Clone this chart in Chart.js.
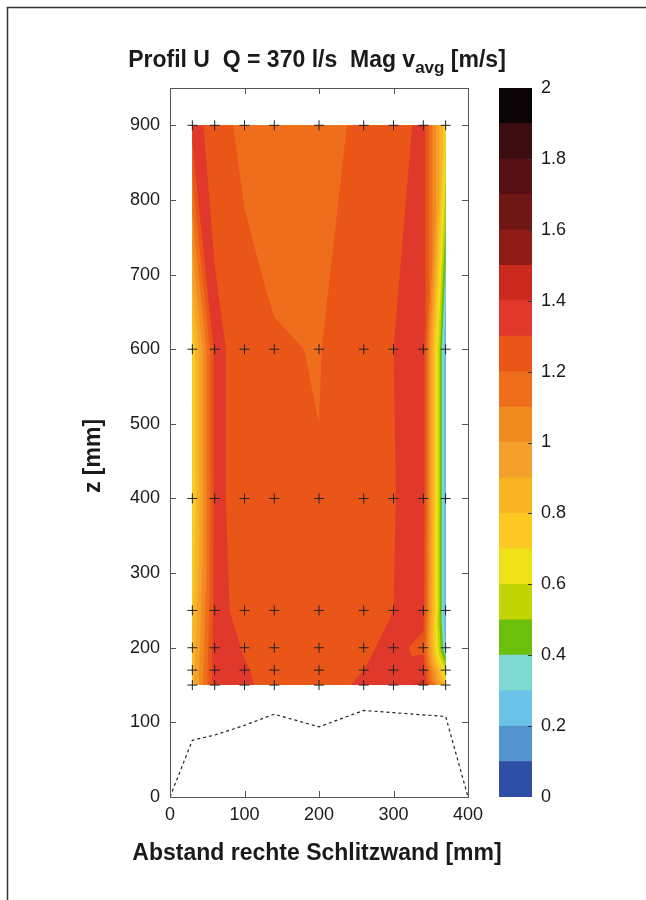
<!DOCTYPE html>
<html>
<head>
<meta charset="utf-8">
<script src="https://cdn.jsdelivr.net/npm/chart.js@4.4.1/dist/chart.umd.min.js"></script>
<style>
  body { margin: 0; background: #fff; }
  #wrap { position: relative; width: 646px; height: 900px; }
  canvas { position: absolute; top: 0; }
</style>
</head>
<body>
<div id="wrap">
  <canvas id="main" width="646" height="900" style="left:0"></canvas>
  <canvas id="bar" width="186" height="900" style="left:460px"></canvas>
</div>
<script>
// measuring grid (crosses)
const xPos = [30, 60, 100, 140, 200, 260, 300, 340, 370];
const zPos = [900, 600, 400, 250, 200, 170, 150];

// Mag v_avg [m/s], one row per measuring height
const v900 = [1.35, 1.25, 1.17, 1.14, 1.15, 1.23, 1.20, 1.36, 0.72];
const v600 = [0.72, 1.33, 1.25, 1.21, 1.195, 1.28, 1.30, 1.36, 0.20];
const v400 = [0.70, 1.33, 1.25, 1.24, 1.205, 1.25, 1.295, 1.36, 0.20];
const v250 = [0.78, 1.34, 1.26, 1.25, 1.24, 1.25, 1.30, 1.34, 0.20];
const v200 = [0.82, 1.36, 1.29, 1.25, 1.24, 1.28, 1.33, 1.27, 0.28];
const v170 = [0.85, 1.36, 1.31, 1.26, 1.25, 1.30, 1.35, 1.37, 0.60];
const v150 = [0.85, 1.36, 1.32, 1.26, 1.25, 1.32, 1.36, 1.42, 0.80];

// bottom profile (dashed)
const bedX = [0, 30, 60, 100, 140, 200, 260, 300, 340, 370, 400];
const bedZ = [0, 76, 83, 96, 111, 94, 116, 113, 110, 108, 0];

// colour levels
const levelEdges = [0, 0.1, 0.2, 0.3, 0.4, 0.5, 0.6, 0.7, 0.8, 0.9, 1.0,
                    1.1, 1.2, 1.3, 1.4, 1.5, 1.6, 1.7, 1.8, 1.9, 2.0];
const levelColors = ['#2f4ea6', '#5595cd', '#6cc3e8', '#7ed9d1', '#6cbf0a',
                     '#c2d503', '#efe117', '#fbc922', '#f9b423', '#f5a02b',
                     '#f28b1f', '#ee6e1c', '#e95618', '#e0392b', '#cd2a1f',
                     '#8e1d17', '#6e1714', '#571013', '#3b0c10', '#0b0406'];

// tick labels
const xTicks = [0, 100, 200, 300, 400];
const zTicks = [0, 100, 200, 300, 400, 500, 600, 700, 800, 900];
const cbTicks = [0, 0.2, 0.4, 0.6, 0.8, 1, 1.2, 1.4, 1.6, 1.8, 2];

const velRows = [v900, v600, v400, v250, v200, v170, v150];
const FONT = 'Arial, "Liberation Sans", Helvetica, sans-serif';
const INK = '#1a1a1a';

// cut a polygon (x, y, v) at value lo, keep the part with v >= lo
function clipAbove(poly, lo) {
  const out = [];
  for (let i = 0; i < poly.length; i++) {
    const a = poly[i], b = poly[(i + 1) % poly.length];
    const ain = a.v >= lo, bin = b.v >= lo;
    if (ain) out.push(a);
    if (ain !== bin) {
      const t = (lo - a.v) / (b.v - a.v);
      out.push({ x: a.x + t * (b.x - a.x), y: a.y + t * (b.y - a.y), v: lo });
    }
  }
  return out;
}

const contourPlugin = {
  id: 'contour',
  beforeDatasetsDraw(chart) {
    const { ctx, scales: { x, y } } = chart;
    const tris = [];
    for (let j = 0; j < zPos.length - 1; j++) {
      for (let i = 0; i < xPos.length - 1; i++) {
        const TL = { x: xPos[i], y: zPos[j], v: velRows[j][i] };
        const TR = { x: xPos[i + 1], y: zPos[j], v: velRows[j][i + 1] };
        const BL = { x: xPos[i], y: zPos[j + 1], v: velRows[j + 1][i] };
        const BR = { x: xPos[i + 1], y: zPos[j + 1], v: velRows[j + 1][i + 1] };
        if (xPos[i] < 200) {
          tris.push([TL, TR, BR], [TL, BR, BL]);
        } else {
          tris.push([TL, TR, BL], [TR, BR, BL]);
        }
      }
    }
    ctx.save();
    // paint "v >= level" regions from low to high, each as one path
    for (let k = 0; k < levelColors.length; k++) {
      const lo = levelEdges[k];
      ctx.beginPath();
      let any = false;
      for (const tri of tris) {
        const p = clipAbove(tri, lo);
        if (p.length < 3) continue;
        any = true;
        p.forEach((q, n) => {
          const px = x.getPixelForValue(q.x), py = y.getPixelForValue(q.y);
          if (n === 0) ctx.moveTo(px, py); else ctx.lineTo(px, py);
        });
        ctx.closePath();
      }
      if (!any) break;
      ctx.fillStyle = levelColors[k];
      ctx.fill('nonzero');
    }
    ctx.restore();
  },
  afterDraw(chart) {
    const { ctx, chartArea: a, scales: { x, y } } = chart;
    ctx.save();
    // axes box with inward ticks
    ctx.strokeStyle = '#555';
    ctx.lineWidth = 1;
    ctx.strokeRect(a.left + 0.5, a.top + 0.5, a.right - a.left, a.bottom - a.top);
    ctx.beginPath();
    x.ticks.forEach(t => {
      const px = Math.round(x.getPixelForValue(t.value)) + 0.5;
      ctx.moveTo(px, a.bottom); ctx.lineTo(px, a.bottom - 6);
      ctx.moveTo(px, a.top); ctx.lineTo(px, a.top + 6);
    });
    y.ticks.forEach(t => {
      const py = Math.round(y.getPixelForValue(t.value)) + 0.5;
      ctx.moveTo(a.left, py); ctx.lineTo(a.left + 6, py);
      ctx.moveTo(a.right, py); ctx.lineTo(a.right - 6, py);
    });
    ctx.stroke();

    // page frame
    ctx.strokeStyle = '#333';
    ctx.lineWidth = 1.5;
    ctx.beginPath();
    ctx.moveTo(7.5, 900); ctx.lineTo(7.5, 7.5); ctx.lineTo(646, 7.5);
    ctx.stroke();

    ctx.fillStyle = INK;
    ctx.font = 'bold 23px ' + FONT;
    // x axis label
    ctx.textAlign = 'center';
    ctx.textBaseline = 'alphabetic';
    ctx.fillText('Abstand rechte Schlitzwand [mm]', 317, 860);
    // y axis label
    ctx.save();
    ctx.translate(100, 456);
    ctx.rotate(-Math.PI / 2);
    ctx.fillText('z [mm]', 0, 0);
    ctx.restore();

    // title with subscript
    const parts = [
      { t: 'Profil U  Q = 370 l/s  Mag v', size: 23, dy: 0 },
      { t: 'avg', size: 17, dy: 6 },
      { t: ' [m/s]', size: 23, dy: 0 }
    ];
    let w = 0;
    parts.forEach(p => { ctx.font = 'bold ' + p.size + 'px ' + FONT; p.w = ctx.measureText(p.t).width; w += p.w; });
    let cx = 317 - w / 2;
    ctx.textAlign = 'left';
    parts.forEach(p => {
      ctx.font = 'bold ' + p.size + 'px ' + FONT;
      ctx.fillText(p.t, cx, 67 + p.dy);
      cx += p.w;
    });
    ctx.restore();
  }
};

const crossPoints = [];
zPos.forEach(z => xPos.forEach(xv => crossPoints.push({ x: xv, y: z })));

new Chart(document.getElementById('main'), {
  type: 'scatter',
  data: {
    datasets: [
      {
        data: crossPoints,
        pointStyle: 'cross',
        pointRadius: 5,
        borderColor: '#222',
        borderWidth: 1,
        showLine: false
      },
      {
        data: bedX.map((xv, i) => ({ x: xv, y: bedZ[i] })),
        showLine: true,
        borderColor: '#222',
        borderWidth: 1.2,
        borderDash: [3, 3],
        pointRadius: 0,
        fill: false
      }
    ]
  },
  options: {
    responsive: false,
    animation: false,
    layout: { padding: { left: 79, right: 178, top: 88, bottom: 35 } },
    plugins: { legend: { display: false }, tooltip: { enabled: false } },
    scales: {
      x: {
        type: 'linear',
        min: 0,
        max: 400,
        afterBuildTicks: s => { s.ticks = xTicks.map(v => ({ value: v })); },
        afterFit: s => { s.height = 68; },
        grid: { display: false, drawTicks: false },
        border: { display: false },
        ticks: { padding: 7, maxRotation: 0, color: INK, font: { family: FONT, size: 18 }, callback: v => String(v) }
      },
      y: {
        type: 'linear',
        min: 0,
        max: 950,
        afterBuildTicks: s => { s.ticks = zTicks.map(v => ({ value: v })); },
        afterFit: s => { s.width = 91; },
        grid: { display: false, drawTicks: false },
        border: { display: false },
        ticks: { padding: 10, color: INK, font: { family: FONT, size: 18 }, callback: v => String(v) }
      }
    }
  },
  plugins: [contourPlugin]
});

// colour bar
const cbTickPlugin = {
  id: 'cbticks',
  afterDraw(chart) {
    const { ctx, chartArea: a, scales: { y } } = chart;
    ctx.save();
    ctx.strokeStyle = '#333';
    ctx.lineWidth = 1;
    ctx.beginPath();
    y.ticks.forEach(t => {
      if (t.value === 0 || t.value === 2) return;
      const py = Math.round(y.getPixelForValue(t.value)) + 0.5;
      ctx.moveTo(a.right, py); ctx.lineTo(a.right - 4, py);
    });
    ctx.stroke();
    ctx.restore();
  }
};

new Chart(document.getElementById('bar'), {
  type: 'bar',
  data: {
    labels: ['v'],
    datasets: levelColors.map((c, i) => ({
      data: [[levelEdges[i], levelEdges[i + 1]]],
      backgroundColor: c,
      borderWidth: 0,
      barPercentage: 1,
      categoryPercentage: 1,
      grouped: false
    }))
  },
  options: {
    responsive: false,
    animation: false,
    layout: { padding: { left: 39, right: 0, top: 88, bottom: 103 } },
    plugins: { legend: { display: false }, tooltip: { enabled: false } },
    scales: {
      x: { display: false },
      y: {
        position: 'right',
        min: 0,
        max: 2,
        afterBuildTicks: s => { s.ticks = cbTicks.map(v => ({ value: v })); },
        afterFit: s => { s.width = 114; },
        grid: { display: false, drawTicks: false },
        border: { display: false },
        ticks: { padding: 9, color: INK, font: { family: FONT, size: 18 }, callback: v => String(v) }
      }
    }
  },
  plugins: [cbTickPlugin]
});
</script>
</body>
</html>
